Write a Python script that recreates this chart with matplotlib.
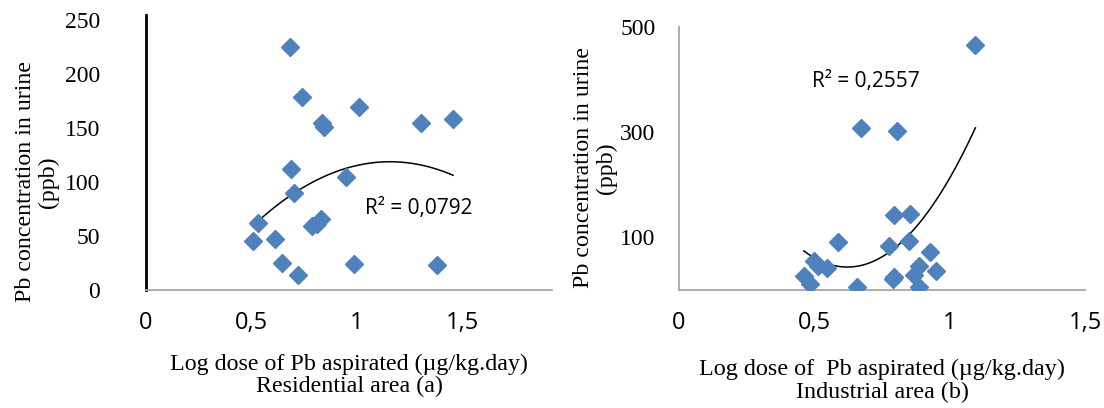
import numpy as np
import matplotlib.pyplot as plt

# Residential area (a): log dose vs Pb in urine (ppb)
res_dose = [0.682, 0.739, 1.009, 0.834, 0.844, 1.303, 1.455, 0.687, 0.948, 0.701,
            0.531, 0.829, 0.787, 0.810, 0.507, 0.611, 0.645, 0.720, 0.986, 1.379]
res_pb = [225, 179, 170, 155, 151, 155, 159, 112, 105, 90,
          62, 66, 59, 61, 45, 47, 25, 14, 24, 23]

# Industrial area (b)
ind_dose = [1.095, 0.674, 0.806, 0.793, 0.854, 0.586, 0.851, 0.777, 0.927, 0.500,
            0.513, 0.545, 0.886, 0.948, 0.461, 0.484, 0.790, 0.793, 0.867, 0.886, 0.657]
ind_pb = [465, 308, 302, 142, 144, 92, 94, 83, 72, 55,
          46, 41, 46, 36, 27, 11, 20, 24, 28, 6, 5]

r2_res = "R² = 0,0792"
r2_ind = "R² = 0,2557"

blue = "#4F81BD"
grey = "#A6A6A6"
serif = "Liberation Serif"
sans = "Open Sans"

fig = plt.figure(figsize=(11.04, 4.08), dpi=100)
W, H = 1104, 408


def px_axes(x0, x1, y0, y1):
    return fig.add_axes([x0 / W, 1 - y1 / H, (x1 - x0) / W, (y1 - y0) / H])


def scatter_panel(ax, x, y, r2, r2_pos):
    ax.plot(x, y, "D", color=blue, ms=9.5, mec=blue, zorder=3)
    coef = np.polyfit(x, y, 2)
    xs = np.linspace(min(x), max(x), 200)
    ax.plot(xs, np.polyval(coef, xs), color="black", lw=1.1, zorder=2)
    ax.text(r2_pos[0], r2_pos[1], r2, fontsize=15, family=sans,
            va="center", ha="left")
    for s in ["top", "right"]:
        ax.spines[s].set_visible(False)
    ax.spines["bottom"].set_color(grey)
    ax.spines["bottom"].set_linewidth(1.3)
    ax.tick_params(length=0)
    ax.set_xticks([0, 0.5, 1, 1.5])
    ax.set_xticklabels(["0", "0,5", "1", "1,5"], fontsize=17, family=sans)


# left panel
ax1 = px_axes(146, 552, 15, 290)
scatter_panel(ax1, res_dose, res_pb, r2_res, (1.038, 76))
ax1.set_xlim(0, 1.924)
ax1.set_ylim(0, 255)
ax1.set_yticks([0, 50, 100, 150, 200, 250])
ax1.set_yticklabels([str(v) for v in [0, 50, 100, 150, 200, 250]], family=serif, fontsize=17)
ax1.spines["left"].set_color("black")
ax1.spines["left"].set_linewidth(2)
ax1.tick_params(axis="y", pad=33)
ax1.tick_params(axis="x", pad=15)

# right panel
ax2 = px_axes(679, 1085, 27, 290)
scatter_panel(ax2, ind_dose, ind_pb, r2_ind, (0.493, 396))
ax2.set_xlim(0, 1.5)
ax2.set_ylim(0, 500)
ax2.set_yticks([100, 300, 500])
ax2.set_yticklabels(["100", "300", "500"], family=serif, fontsize=17)
ax2.spines["left"].set_color(grey)
ax2.spines["left"].set_linewidth(1.3)
ax2.tick_params(axis="y", pad=17)
ax2.tick_params(axis="x", pad=15)

# axis titles
ylab = "Pb concentration in urine\n(ppb)"
fig.text(37 / W, 1 - 182 / H, ylab, rotation=90, ha="center", va="center",
         multialignment="center", family=serif, fontsize=17.2, linespacing=1.15)
fig.text(595 / W, 1 - 168 / H, ylab, rotation=90, ha="center", va="center",
         multialignment="center", family=serif, fontsize=17.2, linespacing=1.15)
fig.text(349 / W, 1 - 375 / H, "Log dose of Pb aspirated (µg/kg.day)\nResidential area (a)",
         ha="center", va="center", multialignment="center", family=serif,
         fontsize=17.3, linespacing=1.05)
fig.text(882 / W, 1 - 381 / H, "Log dose of  Pb aspirated (µg/kg.day)\nIndustrial area (b)",
         ha="center", va="center", multialignment="center", family=serif,
         fontsize=17.4, linespacing=1.15)

fig.savefig("out.png", dpi=100)
